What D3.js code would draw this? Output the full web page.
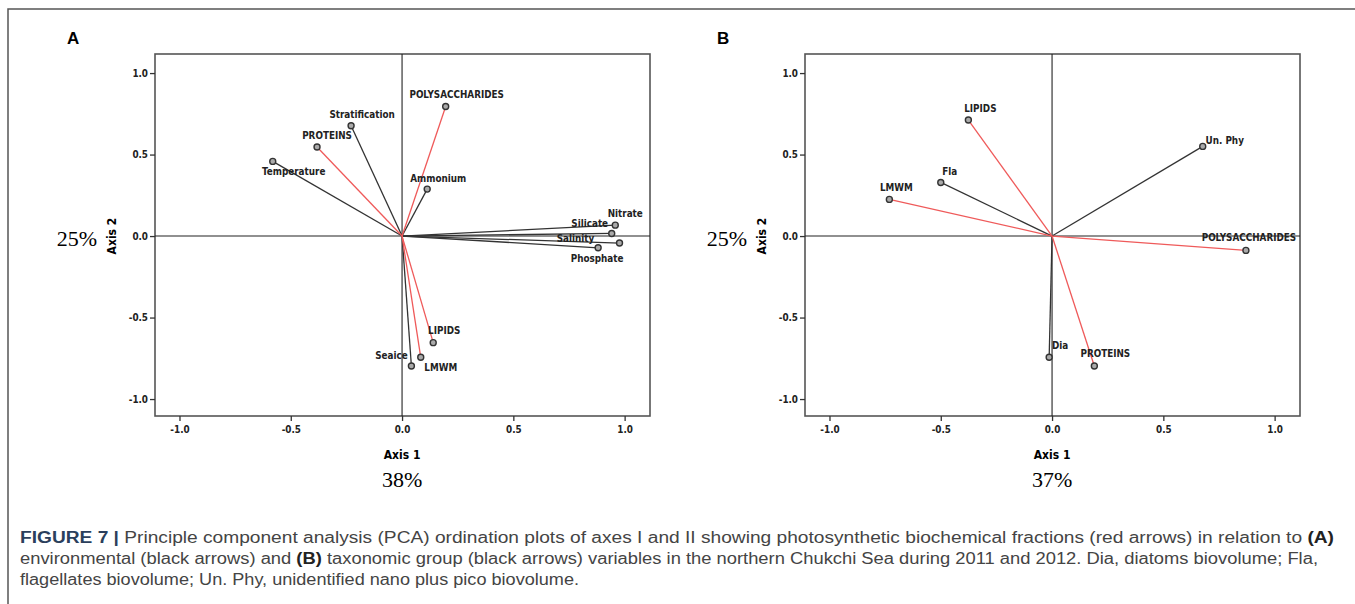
<!DOCTYPE html>
<html>
<head>
<meta charset="utf-8">
<script src="https://cdn.jsdelivr.net/npm/d3@7"></script>
<style>
  body { margin: 0; background: #fff; }
  .tick text { font-family: "Liberation Sans Narrow", "DejaVu Sans Condensed", sans-serif; font-weight: bold; font-size: 9.8px; fill: #222; }
  .tick line { stroke: #333; stroke-width: 1.3; }
  .vlabel { font-family: "Liberation Sans Narrow", "DejaVu Sans Condensed", sans-serif; font-weight: bold; font-size: 9.8px; fill: #222; }
</style>
</head>
<body>
<svg id="chart" width="1355" height="604"></svg>
<script>
// panel A: environmental variables (black) and biochemical fractions (red)
const namesA = ["Temperature", "Stratification", "Ammonium", "Nitrate", "Silicate", "Salinity", "Phosphate", "Seaice",
                "PROTEINS", "POLYSACCHARIDES", "LIPIDS", "LMWM"];
const axis1A = [-0.581, -0.229, 0.113, 0.958, 0.942, 0.977, 0.881, 0.042, -0.382, 0.196, 0.14, 0.084];
const axis2A = [0.458, 0.677, 0.288, 0.067, 0.016, -0.043, -0.072, -0.797, 0.546, 0.795, -0.654, -0.744];
const groupA = ["env", "env", "env", "env", "env", "env", "env", "env", "bio", "bio", "bio", "bio"];

// panel B: taxonomic groups (black) and biochemical fractions (red)
const namesB = ["Un. Phy", "Fla", "Dia", "LIPIDS", "LMWM", "POLYSACCHARIDES", "PROTEINS"];
const axis1B = [0.677, -0.5, -0.013, -0.376, -0.731, 0.871, 0.19];
const axis2B = [0.55, 0.329, -0.744, 0.712, 0.225, -0.088, -0.797];
const groupB = ["tax", "tax", "tax", "bio", "bio", "bio", "bio"];

const tickValues = [-1.0, -0.5, 0.0, 0.5, 1.0];
const varianceA = ["38%", "25%"];
const varianceB = ["37%", "25%"];

// label placement (pixel offsets of label centre from point)
const labelOffA = {
  "Temperature": [21, 10], "Stratification": [11, -11], "Ammonium": [11, -11], "Nitrate": [10, -12],
  "Silicate": [-22, -10], "Salinity": [-44, -5], "Phosphate": [-1, 11], "Seaice": [-20, -10],
  "PROTEINS": [10, -12], "POLYSACCHARIDES": [11, -12], "LIPIDS": [11, -12], "LMWM": [20, 10]
};
const labelOffB = {
  "Un. Phy": [22, -6], "Fla": [9, -11], "Dia": [11, -12], "LIPIDS": [12, -12],
  "LMWM": [7, -12], "POLYSACCHARIDES": [3, -13], "PROTEINS": [11, -12]
};

const svg = d3.select("#chart");
const fmt = d => d3.format(".1f")(d).replace("\u2212", "-");

// outer figure box
svg.append("rect").attr("x", 8).attr("y", 9).attr("width", 1360).attr("height", 620)
  .style("fill", "none").style("stroke", "#555").style("stroke-width", 1.5);

function panel(opts) {
  const x = d3.scaleLinear().domain([-1.11, 1.114]).range([opts.left, opts.left + 495]);
  const y = d3.scaleLinear().domain([-1.104, 1.117]).range([416, 54]);
  const g = svg.append("g");

  g.append("text").attr("x", opts.left - 88).attr("y", 38)
    .attr("dominant-baseline", "central")
    .style("font-family", "Liberation Sans, Arial, sans-serif").style("font-weight", "bold")
    .style("font-size", "17px").text(opts.letter);

  // frame
  g.append("rect").attr("x", x.range()[0]).attr("y", y.range()[1])
    .attr("width", x.range()[1] - x.range()[0]).attr("height", y.range()[0] - y.range()[1])
    .style("fill", "none").style("stroke", "#555").style("stroke-width", 1.6);

  // zero lines
  g.append("line").attr("x1", x(0)).attr("x2", x(0)).attr("y1", y.range()[1]).attr("y2", y.range()[0])
    .style("stroke", "#222").style("stroke-width", 1.1);
  g.append("line").attr("x1", x.range()[0]).attr("x2", x.range()[1]).attr("y1", y(0)).attr("y2", y(0))
    .style("stroke", "#222").style("stroke-width", 1.1);

  const ax = g.append("g").attr("transform", `translate(0,${y.range()[0]})`)
    .call(d3.axisBottom(x).tickValues(tickValues).tickSize(5).tickPadding(5).tickFormat(fmt));
  ax.select(".domain").remove();
  const ay = g.append("g").attr("transform", `translate(${x.range()[0]},0)`)
    .call(d3.axisLeft(y).tickValues(tickValues).tickSize(5).tickPadding(2).tickFormat(fmt));
  ay.select(".domain").remove();

  // axis titles
  g.append("text").attr("x", x(0)).attr("y", 455).attr("text-anchor", "middle")
    .attr("dominant-baseline", "central")
    .style("font-family", "Liberation Sans Narrow, DejaVu Sans Condensed, sans-serif")
    .style("font-weight", "bold").style("font-size", "12px").text("Axis 1");
  g.append("text").attr("x", x(0)).attr("y", 479).attr("text-anchor", "middle")
    .attr("dominant-baseline", "central")
    .style("font-family", "Liberation Serif, serif").style("font-size", "22px").text(opts.variance[0]);
  g.append("text").attr("transform", `translate(${opts.left - 43},${y(0)}) rotate(-90)`)
    .attr("text-anchor", "middle").attr("dominant-baseline", "central")
    .style("font-family", "Liberation Sans Narrow, DejaVu Sans Condensed, sans-serif")
    .style("font-weight", "bold").style("font-size", "12px").text("Axis 2");
  g.append("text").attr("x", opts.left - 78).attr("y", y(0) + 2).attr("text-anchor", "middle")
    .attr("dominant-baseline", "central")
    .style("font-family", "Liberation Serif, serif").style("font-size", "22px").text(opts.variance[1]);

  const pts = opts.names.map((n, i) => ({ name: n, a1: opts.a1[i], a2: opts.a2[i], grp: opts.grp[i] }));
  const color = d => d.grp === "bio" ? "#ef5a5a" : "#333";

  g.selectAll("line.vec").data(pts).enter().append("line").attr("class", "vec")
    .attr("x1", x(0)).attr("y1", y(0))
    .attr("x2", d => x(d.a1)).attr("y2", d => y(d.a2))
    .style("stroke", color).style("stroke-width", 1.3);

  g.selectAll("circle.pt").data(pts).enter().append("circle").attr("class", "pt")
    .attr("cx", d => x(d.a1)).attr("cy", d => y(d.a2)).attr("r", 3)
    .style("fill", "#aaa").style("stroke", "#333").style("stroke-width", 1.4);

  g.selectAll("text.vlabel").data(pts).enter().append("text").attr("class", "vlabel")
    .attr("x", d => x(d.a1) + opts.off[d.name][0])
    .attr("y", d => y(d.a2) + opts.off[d.name][1])
    .attr("text-anchor", "middle").attr("dominant-baseline", "central")
    .text(d => d.name);
}

panel({ left: 155, letter: "A", names: namesA, a1: axis1A, a2: axis2A, grp: groupA, off: labelOffA, variance: varianceA });
panel({ left: 805, letter: "B", names: namesB, a1: axis1B, a2: axis2B, grp: groupB, off: labelOffB, variance: varianceB });

// caption, one text element per line stretched to the reference line widths
const capFont = "Liberation Sans, Arial, sans-serif";
function capLine(yPos, width) {
  return svg.append("text").attr("x", 20).attr("y", yPos)
    .attr("textLength", width).attr("lengthAdjust", "spacingAndGlyphs")
    .style("font-family", capFont).style("font-size", "16px").style("fill", "#444");
}
const line1 = capLine(543, 1314);
line1.append("tspan").style("font-weight", "bold").style("fill", "#2b3f5c").text("FIGURE 7 | ");
line1.append("tspan").text("Principle component analysis (PCA) ordination plots of axes I and II showing photosynthetic biochemical fractions (red arrows) in relation to ");
line1.append("tspan").style("font-weight", "bold").style("fill", "#222").text("(A)");
const line2 = capLine(564, 1298);
line2.append("tspan").text("environmental (black arrows) and ");
line2.append("tspan").style("font-weight", "bold").style("fill", "#222").text("(B)");
line2.append("tspan").text(" taxonomic group (black arrows) variables in the northern Chukchi Sea during 2011 and 2012. Dia, diatoms biovolume; Fla,");
capLine(585, 559).text("flagellates biovolume; Un. Phy, unidentified nano plus pico biovolume.");
</script>
</body>
</html>
